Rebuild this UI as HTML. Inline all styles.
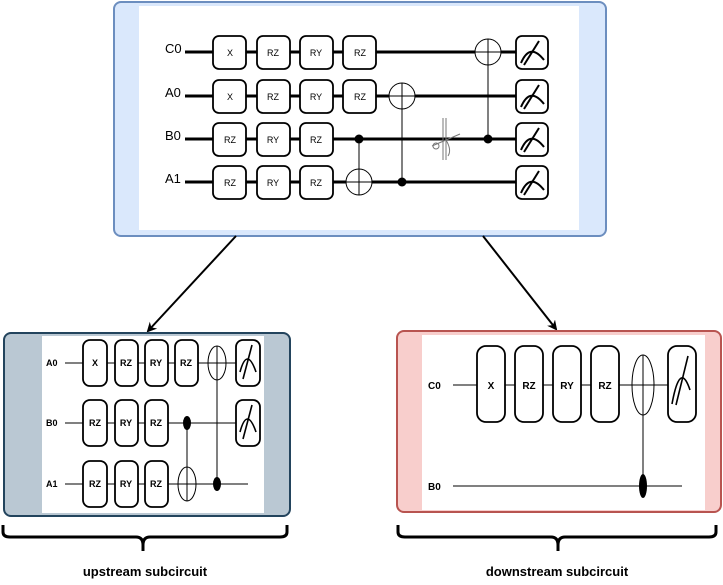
<!DOCTYPE html>
<html><head><meta charset="utf-8"><style>body{margin:0;background:#fff}svg{display:block}text{font-family:"Liberation Sans",sans-serif}</style></head><body>
<svg width="723" height="585" viewBox="0 0 723 585" xmlns="http://www.w3.org/2000/svg">
<defs>
<marker id="ah" markerWidth="10" markerHeight="10" refX="8" refY="5" orient="auto" markerUnits="userSpaceOnUse"><path d="M0,0 L10,5 L0,10 L3,5 z" fill="#000"/></marker>
</defs>
<!-- top -->
<rect x="114" y="2" width="492" height="234" rx="7" fill="#dae8fc" stroke="#6c8ebf" stroke-width="2"/>
<rect x="139" y="6" width="440" height="224" fill="#fff"/>
<g stroke="#000" stroke-width="3">
<line x1="185" y1="52" x2="520" y2="52"/><line x1="185" y1="96" x2="520" y2="96"/><line x1="185" y1="139" x2="520" y2="139"/><line x1="185" y1="182" x2="520" y2="182"/>
</g>
<g font-size="13" fill="#000"><text x="165" y="53">C0</text><text x="165" y="97">A0</text><text x="165" y="140">B0</text><text x="165" y="183">A1</text></g>
<g fill="#fff" stroke="#000" stroke-width="1.8">
<rect x="213" y="36" width="33" height="33" rx="6"/><rect x="257" y="36" width="33" height="33" rx="6"/><rect x="300" y="36" width="33" height="33" rx="6"/><rect x="343" y="36" width="33" height="33" rx="6"/>
<rect x="213" y="80" width="33" height="33" rx="6"/><rect x="257" y="80" width="33" height="33" rx="6"/><rect x="300" y="80" width="33" height="33" rx="6"/><rect x="343" y="80" width="33" height="33" rx="6"/>
<rect x="213" y="123" width="33" height="33" rx="6"/><rect x="257" y="123" width="33" height="33" rx="6"/><rect x="300" y="123" width="33" height="33" rx="6"/>
<rect x="213" y="166" width="33" height="33" rx="6"/><rect x="257" y="166" width="33" height="33" rx="6"/><rect x="300" y="166" width="33" height="33" rx="6"/>
<rect x="516" y="36" width="32" height="33" rx="6"/><rect x="516" y="80" width="32" height="33" rx="6"/><rect x="516" y="123" width="32" height="33" rx="6"/><rect x="516" y="166" width="32" height="33" rx="6"/>
</g>
<g font-size="9" text-anchor="middle"><text x="230" y="56">X</text><text x="273" y="56">RZ</text><text x="316" y="56">RY</text><text x="360" y="56">RZ</text>
<text x="230" y="100">X</text><text x="273" y="100">RZ</text><text x="316" y="100">RY</text><text x="360" y="100">RZ</text>
<text x="230" y="143">RZ</text><text x="273" y="143">RY</text><text x="316" y="143">RZ</text>
<text x="230" y="186">RZ</text><text x="273" y="186">RY</text><text x="316" y="186">RZ</text></g>
<g fill="none" stroke="#000" stroke-width="2">
<path d="M521,63 Q530,42 544,60"/><line x1="524" y1="65" x2="539" y2="41"/>
<path d="M521,107 Q530,86 544,104"/><line x1="524" y1="109" x2="539" y2="85"/>
<path d="M521,150 Q530,129 544,147"/><line x1="524" y1="152" x2="539" y2="128"/>
<path d="M521,193 Q530,172 544,190"/><line x1="524" y1="195" x2="539" y2="171"/>
</g>
<g stroke="#000" stroke-width="1">
<line x1="359" y1="139" x2="359" y2="195"/><line x1="402" y1="83" x2="402" y2="182"/><line x1="488" y1="39" x2="488" y2="139"/>
</g>
<g fill="#fff" stroke="#000" stroke-width="1"><circle cx="359" cy="182" r="13"/><circle cx="402" cy="96" r="13"/><circle cx="488" cy="52" r="13"/></g>
<g stroke="#000" stroke-width="1"><line x1="346" y1="182" x2="372" y2="182"/><line x1="359" y1="169" x2="359" y2="195"/><line x1="389" y1="96" x2="415" y2="96"/><line x1="402" y1="83" x2="402" y2="109"/><line x1="475" y1="52" x2="501" y2="52"/><line x1="488" y1="39" x2="488" y2="65"/></g>
<circle cx="359" cy="139" r="4.5"/><circle cx="402" cy="182" r="4.5"/><circle cx="488" cy="139" r="4.5"/>
<g stroke="#777" stroke-width="1" fill="none"><line x1="443" y1="118" x2="443" y2="160"/><line x1="446" y1="118" x2="446" y2="160"/><path d="M432,146 L460,134"/><circle cx="436" cy="146" r="3"/><path d="M446,140 Q452,150 448,156"/></g>
<!-- arrows -->
<line x1="236" y1="236" x2="148" y2="331" stroke="#000" stroke-width="2" marker-end="url(#ah)"/>
<line x1="483" y1="236" x2="556" y2="329" stroke="#000" stroke-width="2" marker-end="url(#ah)"/>
<!-- bottom left -->
<rect x="4" y="333" width="286" height="183" rx="7" fill="#bac8d3" stroke="#23445d" stroke-width="2"/>
<rect x="42" y="336" width="222" height="177" fill="#fff"/>
<g stroke="#000" stroke-width="1"><line x1="65" y1="363" x2="236" y2="363"/><line x1="65" y1="423" x2="236" y2="423"/><line x1="65" y1="484" x2="248" y2="484"/>
<line x1="187" y1="423" x2="187" y2="501"/><line x1="217" y1="346" x2="217" y2="484"/></g>
<g font-size="9" font-weight="bold"><text x="46" y="366">A0</text><text x="46" y="426">B0</text><text x="46" y="487">A1</text></g>
<g fill="#fff" stroke="#000" stroke-width="1.8">
<rect x="83" y="340" width="24" height="46" rx="7"/><rect x="115" y="340" width="23" height="46" rx="7"/><rect x="145" y="340" width="23" height="46" rx="7"/><rect x="175" y="340" width="23" height="46" rx="7"/>
<rect x="83" y="400" width="24" height="46" rx="7"/><rect x="115" y="400" width="23" height="46" rx="7"/><rect x="145" y="400" width="23" height="46" rx="7"/>
<rect x="83" y="461" width="24" height="46" rx="7"/><rect x="115" y="461" width="23" height="46" rx="7"/><rect x="145" y="461" width="23" height="46" rx="7"/>
<rect x="236" y="340" width="24" height="46" rx="7"/><rect x="236" y="400" width="24" height="46" rx="7"/>
</g>
<g font-size="9" font-weight="bold" text-anchor="middle"><text x="95" y="366">X</text><text x="126" y="366">RZ</text><text x="156" y="366">RY</text><text x="186" y="366">RZ</text>
<text x="95" y="426">RZ</text><text x="126" y="426">RY</text><text x="156" y="426">RZ</text>
<text x="95" y="487">RZ</text><text x="126" y="487">RY</text><text x="156" y="487">RZ</text></g>
<g fill="none" stroke="#000" stroke-width="1"><ellipse cx="217" cy="363" rx="9" ry="17"/><ellipse cx="187" cy="484" rx="9" ry="17"/></g>
<g stroke="#000" stroke-width="1"><line x1="208" y1="363" x2="226" y2="363"/><line x1="178" y1="484" x2="196" y2="484"/></g>
<ellipse cx="187" cy="423" rx="4" ry="7"/><ellipse cx="217" cy="484" rx="4" ry="7"/>
<g fill="none" stroke="#000" stroke-width="1.6"><path d="M240,372 Q247,346 256,372"/><line x1="243" y1="379" x2="252" y2="345"/><path d="M240,432 Q247,406 256,432"/><line x1="243" y1="439" x2="252" y2="405"/></g>
<!-- bottom right -->
<rect x="397" y="331" width="324" height="181" rx="7" fill="#f8cecc" stroke="#b85450" stroke-width="2"/>
<rect x="422" y="335" width="283" height="175" fill="#fff"/>
<g stroke="#000" stroke-width="1"><line x1="453" y1="385" x2="668" y2="385"/><line x1="453" y1="486" x2="682" y2="486"/><line x1="643" y1="355" x2="643" y2="486"/></g>
<g font-size="10" font-weight="bold"><text x="428" y="389">C0</text><text x="428" y="490">B0</text></g>
<g fill="#fff" stroke="#000" stroke-width="1.8">
<rect x="477" y="346" width="28" height="76" rx="9"/><rect x="515" y="346" width="28" height="76" rx="9"/><rect x="553" y="346" width="28" height="76" rx="9"/><rect x="591" y="346" width="28" height="76" rx="9"/><rect x="668" y="346" width="28" height="76" rx="9"/>
</g>
<g font-size="10" font-weight="bold" text-anchor="middle"><text x="491" y="389">X</text><text x="529" y="389">RZ</text><text x="567" y="389">RY</text><text x="605" y="389">RZ</text></g>
<ellipse cx="643" cy="385" rx="11" ry="30" fill="none" stroke="#000"/><line x1="632" y1="385" x2="654" y2="385" stroke="#000"/>
<ellipse cx="643" cy="486" rx="4" ry="12"/>
<g fill="none" stroke="#000" stroke-width="1.6"><path d="M672,404 Q680,360 690,390"/><line x1="676" y1="405" x2="688" y2="356"/></g>
<!-- braces -->
<g fill="none" stroke="#000" stroke-width="3">
<path d="M3,525 L3,532 Q3,537 10,537 L136,537 Q143,537 143,545 L143,551 M143,545 Q143,537 150,537 L280,537 Q287,537 287,532 L287,525"/>
<path d="M398,525 L398,532 Q398,537 405,537 L551,537 Q558,537 558,545 L558,551 M558,545 Q558,537 565,537 L709,537 Q716,537 716,532 L716,525"/>
</g>
<g font-size="13" font-weight="bold" text-anchor="middle"><text x="145" y="576">upstream subcircuit</text><text x="557" y="576">downstream subcircuit</text></g>
</svg>
</body></html>
